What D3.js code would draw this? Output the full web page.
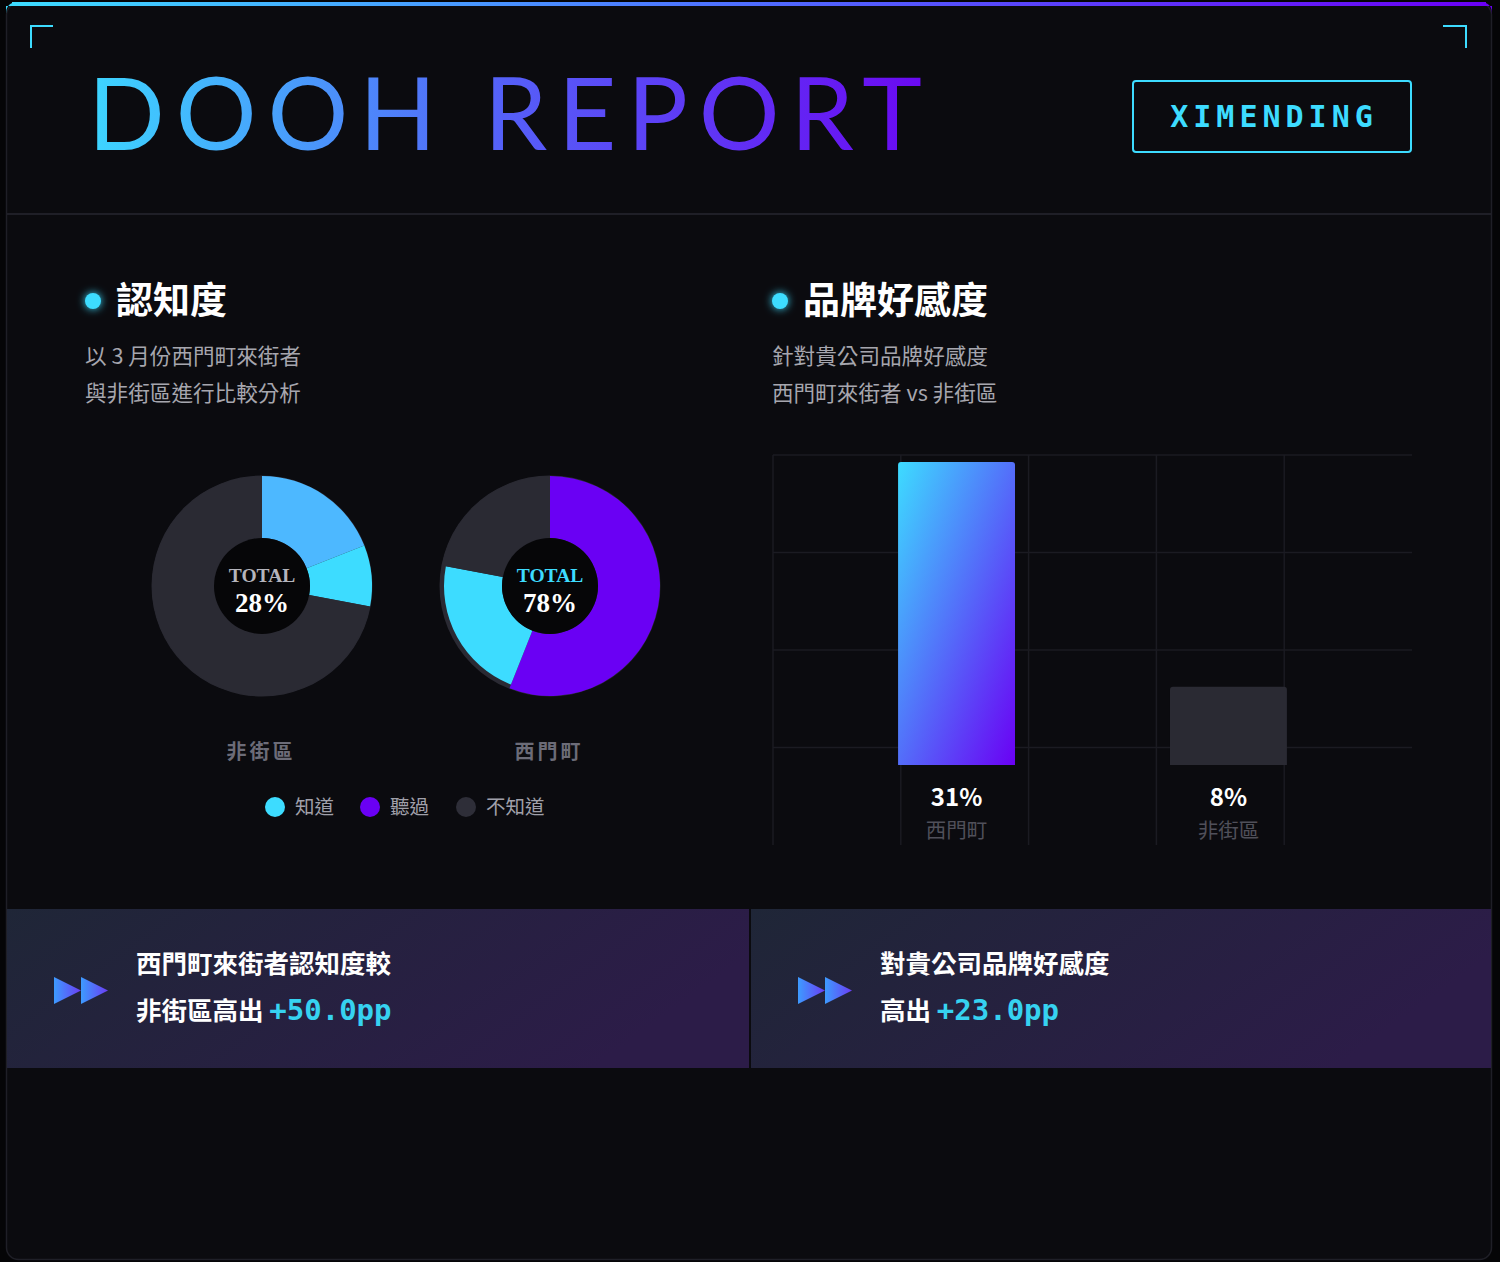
<!DOCTYPE html>
<html>
<head>
<meta charset="utf-8">
<script src="https://cdn.jsdelivr.net/npm/d3@7/dist/d3.min.js"></script>
<style>
  html, body { margin: 0; padding: 0; background: #050507; }
  svg { display: block; }
</style>
</head>
<body>
<div id="chart"></div>
<script>
// ---------- DATA ----------
const titleText = "DOOH REPORT";
const badgeText = "XIMENDING";

const awarenessTitle = "認知度";
const awarenessSub = ["以 3 月份西門町來街者", "與非街區進行比較分析"];
const favorTitle = "品牌好感度";
const favorSub = ["針對貴公司品牌好感度", "西門町來街者 vs 非街區"];

const donutGroups = ["非街區", "西門町"];
const donutTotals = [28, 78];
const segmentKeys = ["聽過", "知道", "不知道"];
const donutNonStreet = [19, 9, 72];
const donutXimen = [56, 22, 22];

const legendLabels = ["知道", "聽過", "不知道"];

const barCategories = ["西門町", "非街區"];
const barValues = [31, 8];

const insightLine1 = ["西門町來街者認知度較", "對貴公司品牌好感度"];
const insightLine2 = ["非街區高出 ", "高出 "];
const insightValues = ["+50.0pp", "+23.0pp"];

// ---------- STYLE ----------
const C = {
  bg: "#0b0b0f", page: "#050507", cyan: "#3ddcff", purple: "#6a00f4",
  lightBlue: "#4db8ff", dark: "#2a2a33", grid: "#1b1b22", border: "#1f1f27"
};
const CJK = "'Noto Sans CJK TC', 'Noto Sans CJK SC', sans-serif";
const MONO = "'DejaVu Sans Mono', monospace";

const W = 1500, H = 1262;
const svg = d3.select("#chart").append("svg").attr("width", W).attr("height", H);
const defs = svg.append("defs");

function linGrad(id, stops, attrs) {
  const g = defs.append("linearGradient").attr("id", id);
  Object.entries(attrs).forEach(([k, v]) => g.attr(k, v));
  stops.forEach(([o, c]) => g.append("stop").attr("offset", o).attr("stop-color", c));
}
linGrad("topBar", [[0, C.cyan], [0.5, "#4f6dff"], [1, C.purple]], {x1: 0, y1: 0, x2: 1, y2: 0});
linGrad("titleGrad", [[0, "#3dd6ff"], [0.5, "#5560f8"], [1, "#6a0af2"]],
  {gradientUnits: "userSpaceOnUse", x1: 88, y1: 0, x2: 920, y2: 0});
linGrad("barGrad", [[0, C.cyan], [1, C.purple]], {x1: 0, y1: 0, x2: 1, y2: 1});
linGrad("panelGrad", [[0, "#1f2637"], [1, "#2c1c48"]], {x1: 0, y1: 0, x2: 1, y2: 0.3});
linGrad("arrowGrad", [[0, "#3d9bff"], [1, "#6a3df4"]], {x1: 0, y1: 0, x2: 1, y2: 0});

const glow = defs.append("filter").attr("id", "glow").attr("x", "-150%").attr("y", "-150%")
  .attr("width", "400%").attr("height", "400%");
glow.append("feGaussianBlur").attr("stdDeviation", 4).attr("result", "b");
const fm = glow.append("feMerge");
fm.append("feMergeNode").attr("in", "b");
fm.append("feMergeNode").attr("in", "SourceGraphic");

// ---------- CARD ----------
svg.append("rect").attr("x", 6.5).attr("y", 3).attr("width", 1485).attr("height", 1256.5)
  .attr("rx", 12).attr("fill", C.bg).attr("stroke", C.border).attr("stroke-width", 1.5);
svg.append("path")
  .attr("d", "M6,14 Q6,2 18,2 H1480 Q1492,2 1492,14 V6 H6 Z")
  .attr("fill", "url(#topBar)");
svg.append("rect").attr("x", 12).attr("y", 2).attr("width", 1474).attr("height", 4).attr("fill", "url(#topBar)");

// corner brackets
svg.append("path").attr("d", "M31,48 V26 H53").attr("fill", "none").attr("stroke", C.cyan).attr("stroke-width", 2);
svg.append("path").attr("d", "M1443,26 H1466 V48").attr("fill", "none").attr("stroke", C.cyan).attr("stroke-width", 2);

// title
svg.append("text").attr("x", 88).attr("y", 150)
  .attr("font-family", "Lato, 'Open Sans', sans-serif").attr("font-size", 101).attr("font-weight", 400)
  .attr("textLength", 834).attr("lengthAdjust", "spacing")
  .attr("fill", "url(#titleGrad)").text(titleText);

// badge
svg.append("rect").attr("x", 1133).attr("y", 81).attr("width", 278).attr("height", 71).attr("rx", 3)
  .attr("fill", "none").attr("stroke", C.cyan).attr("stroke-width", 2);
svg.append("text").attr("x", 1274).attr("y", 127).attr("text-anchor", "middle")
  .attr("font-family", MONO).attr("font-weight", "bold").attr("font-size", 30)
  .attr("letter-spacing", 5).attr("fill", C.cyan).text(badgeText);

// header separator
svg.append("line").attr("x1", 7).attr("x2", 1491).attr("y1", 214).attr("y2", 214)
  .attr("stroke", C.border).attr("stroke-width", 2);

// ---------- SECTION HEADERS ----------
function sectionHeader(dotX, textX, title, subs) {
  svg.append("circle").attr("cx", dotX).attr("cy", 301).attr("r", 8).attr("fill", C.cyan).attr("filter", "url(#glow)");
  svg.append("text").attr("x", textX).attr("y", 314).attr("font-family", CJK).attr("font-weight", 700)
    .attr("font-size", 37).attr("fill", "#ffffff").text(title);
  subs.forEach((s, i) => {
    svg.append("text").attr("x", textX - 31).attr("y", 364 + i * 37).attr("font-family", CJK)
      .attr("font-size", 21.6).attr("fill", "#a6a6ae").text(s);
  });
}
sectionHeader(93, 116, awarenessTitle, awarenessSub);
sectionHeader(780, 803, favorTitle, favorSub);

// ---------- DONUTS ----------
const segColors = [
  {"聽過": C.lightBlue, "知道": C.cyan, "不知道": C.dark},
  {"聽過": C.purple, "知道": C.cyan, "不知道": C.dark}
];
const donutData = [donutNonStreet, donutXimen];
const donutX = d3.scalePoint().domain(donutGroups).range([262, 550]);
const pie = d3.pie().sort(null).value(d => d.v);
const arc = d3.arc().innerRadius(48).outerRadius(110);

donutGroups.forEach((g, gi) => {
  const cx = donutX(g), cy = 586;
  const grp = svg.append("g").attr("transform", `translate(${cx},${cy})`);
  grp.append("circle").attr("r", 110.5).attr("fill", C.dark);
  const vals = segmentKeys.map((k, i) => ({k, v: donutData[gi][i]}));
  grp.selectAll("path").data(pie(vals)).join("path")
    .attr("d", d => (gi === 1 && d.data.k === "知道") ? d3.arc().innerRadius(48).outerRadius(106)(d) : arc(d))
    .attr("fill", d => segColors[gi][d.data.k]);
  grp.append("circle").attr("r", 48).attr("fill", "#060608");
  grp.append("text").attr("y", -4).attr("text-anchor", "middle")
    .attr("font-family", "'Liberation Serif', 'DejaVu Serif', serif").attr("font-weight", "bold")
    .attr("font-size", 19.5).attr("fill", gi === 0 ? "#b4b4bc" : C.cyan).text("TOTAL");
  grp.append("text").attr("y", 26).attr("text-anchor", "middle")
    .attr("font-family", "'Liberation Serif', 'DejaVu Serif', serif").attr("font-weight", "bold")
    .attr("font-size", 27).attr("fill", "#ffffff").text(donutTotals[gi] + "%");
  svg.append("text").attr("x", cx - 1).attr("y", 759).attr("text-anchor", "middle")
    .attr("font-family", CJK).attr("font-weight", 700).attr("font-size", 20)
    .attr("letter-spacing", 3).attr("fill", "#6c6c78").text(g);
});

// legend
const legendColors = {"知道": C.cyan, "聽過": C.purple, "不知道": "#2e2e38"};
const legendX = [275, 370, 466];
legendLabels.forEach((l, i) => {
  svg.append("circle").attr("cx", legendX[i]).attr("cy", 807).attr("r", 10).attr("fill", legendColors[l]);
  svg.append("text").attr("x", legendX[i] + 20).attr("y", 814).attr("font-family", CJK)
    .attr("font-size", 19.5).attr("fill", "#a0a0aa").text(l);
});

// ---------- BAR CHART ----------
const gx0 = 773, gx1 = 1412, gy0 = 455, gy1 = 845;
const gridCols = d3.scaleLinear().domain([0, 5]).range([gx0, gx1]);
const gridRows = d3.scaleLinear().domain([0, 4]).range([gy0, gy1]);
const gridG = svg.append("g");
d3.range(0, 5).forEach(i => {
  gridG.append("line").attr("x1", gridCols(i)).attr("x2", gridCols(i)).attr("y1", gy0).attr("y2", gy1)
    .attr("stroke", C.grid).attr("stroke-width", 1.5);
});
d3.range(0, 4).forEach(j => {
  gridG.append("line").attr("x1", gx0).attr("x2", gx1).attr("y1", gridRows(j)).attr("y2", gridRows(j))
    .attr("stroke", C.grid).attr("stroke-width", 1.5);
});

const xb = d3.scaleBand().domain(barCategories).range([gx0, gx1]).paddingInner(0.57).paddingOuter(0.46);
const yb = d3.scaleLinear().domain([0, 31]).range([765, 462]);
function topRounded(x, y, w, h, r) {
  return `M${x},${y + h} V${y + r} Q${x},${y} ${x + r},${y} H${x + w - r} Q${x + w},${y} ${x + w},${y + r} V${y + h} Z`;
}
barCategories.forEach((c, i) => {
  const x = xb(c), y = yb(barValues[i]), h = yb(0) - y;
  svg.append("path").attr("d", topRounded(x, y, xb.bandwidth(), h, 3))
    .attr("fill", i === 0 ? "url(#barGrad)" : C.dark);
  const cx = x + xb.bandwidth() / 2;
  svg.append("text").attr("x", cx).attr("y", 806).attr("text-anchor", "middle")
    .attr("font-family", CJK).attr("font-weight", 700).attr("font-size", 24)
    .attr("fill", "#ffffff").text(barValues[i] + "%");
  svg.append("text").attr("x", cx).attr("y", 838).attr("text-anchor", "middle")
    .attr("font-family", CJK).attr("font-size", 20.5).attr("fill", "#50505a").text(c);
});

// ---------- INSIGHT PANELS ----------
const panels = [{x: 7, w: 742}, {x: 751, w: 740}];
panels.forEach((p, i) => {
  svg.append("rect").attr("x", p.x).attr("y", 909).attr("width", p.w).attr("height", 159)
    .attr("fill", "url(#panelGrad)");
  const ax = p.x + 47;
  const ag = svg.append("g");
  ag.append("path").attr("d", `M${ax},977 L${ax + 27},990.5 L${ax},1004 Z`).attr("fill", "url(#arrowGrad)");
  ag.append("path").attr("d", `M${ax + 27},977 L${ax + 54},990.5 L${ax + 27},1004 Z`).attr("fill", "url(#arrowGrad)");
  const tx = p.x + 129;
  svg.append("text").attr("x", tx).attr("y", 973).attr("font-family", CJK).attr("font-weight", 700)
    .attr("font-size", 25.5).attr("fill", "#ffffff").text(insightLine1[i]);
  const t2 = svg.append("text").attr("x", tx).attr("y", 1020).attr("font-family", CJK)
    .attr("font-weight", 700).attr("font-size", 25.5).attr("fill", "#ffffff");
  t2.append("tspan").text(insightLine2[i]);
  t2.append("tspan").attr("font-family", MONO).attr("font-size", 29).attr("fill", "#36d2f0")
    .text(insightValues[i]);
});
</script>
</body>
</html>
